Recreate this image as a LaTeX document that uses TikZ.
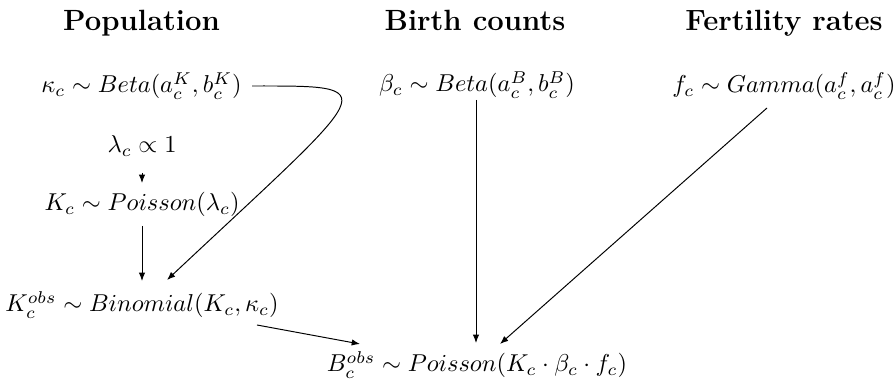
\documentclass[tikz,border=0pt]{standalone}
\usetikzlibrary{arrows.meta,calc}
\begin{document}
\begin{tikzpicture}[x=0.4098pt,y=-0.4098pt,
  lbl/.style={anchor=base,inner sep=0pt},
  head/.style={anchor=base,inner sep=0pt,font=\large\bfseries},
  arr/.style={-{Latex[length=3.4pt,width=2.6pt]},line width=0.4pt}]
\useasboundingbox (0,0) rectangle (894,380);
% headings
\node[head] (hpop)   at (141.5,31) {Population};
\node[head] (hbirth) at (475,31)   {Birth counts};
\node[head] (hfert)  at (784,31)   {Fertility rates};
% nodes
\node[lbl] (kappa) at (141.5,93) {$\kappa_c \sim Beta(a_c^K, b_c^K)$};
\node[lbl] (beta)  at (477,92)   {$\beta_c \sim Beta(a_c^B, b_c^B)$};
\node[lbl] (f)     at (784,93)   {$f_c \sim Gamma(a_c^f, a_c^f)$};
\node[lbl] (lam)   at (142,153)  {$\lambda_c \propto 1$};
\node[lbl] (K)     at (142,211)  {$K_c \sim Poisson(\lambda_c)$};
\node[lbl] (kobs)  at (142,312)  {$K_c^{obs} \sim Binomial(K_c, \kappa_c)$};
\node[lbl] (B)     at (477,372)  {$B_c^{obs} \sim Poisson(K_c \cdot \beta_c \cdot f_c)$};
% connectors
\draw[arr] ($(lam.base)+(0,20)$) -- ($(K.base)+(0,-28)$);
\draw[arr] ($(K.base)+(0,15)$) -- ($(kobs.base)+(0,-31)$);
\draw[arr] ($(kappa.base east)+(10,-7)$)
  .. controls ($(kappa.base east)+(145,-7)$) and ($(kobs.base)+(235,-229)$)
  .. ($(kobs.base)+(25,-32)$);
\draw[arr] ($(kobs.base)+(115,13)$) -- ($(B.base)+(-117,-28)$);
\draw[arr] ($(beta.base)+(-1,8)$) -- ($(B.base)+(-1,-29)$);
\draw[arr] ($(f.base)+(-17,15)$) -- ($(B.base)+(23,-28)$);
\end{tikzpicture}
\end{document}
